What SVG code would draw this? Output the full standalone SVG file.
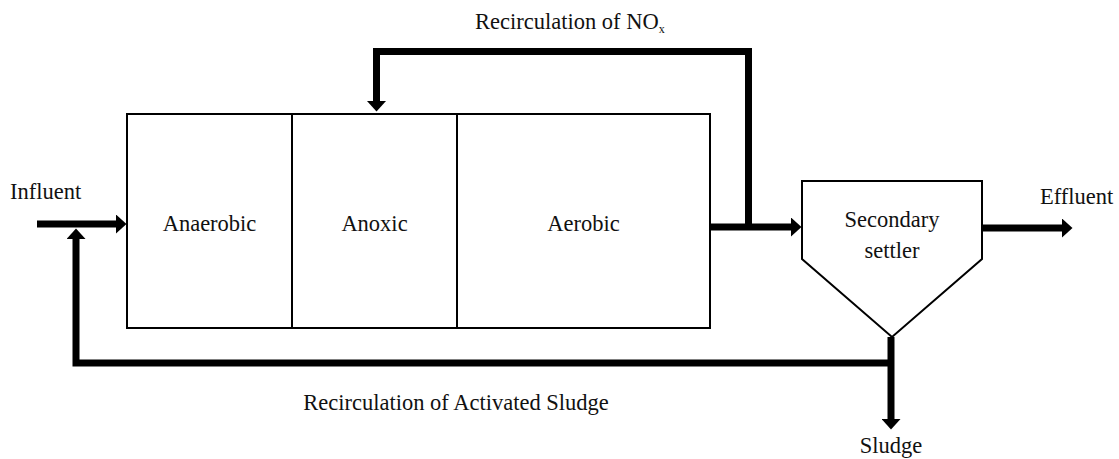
<svg xmlns="http://www.w3.org/2000/svg" width="1119" height="459" viewBox="0 0 1119 459">
  <defs>
    <marker id="head" markerUnits="userSpaceOnUse" markerWidth="11" markerHeight="19" refX="0" refY="9.5" orient="auto">
      <path d="M0,0 L10.5,9.5 L0,19 Z" fill="#000"/>
    </marker>
    <style>
      .box { fill: #fff; stroke: #000; stroke-width: 2; }
      .flow { fill: none; stroke: #000; stroke-width: 7; stroke-linejoin: miter; marker-end: url(#head); }
      text { font-size: 22.5px; fill: #111; }
      .mid { text-anchor: middle; }
    </style>
  </defs>

  <rect width="1119" height="459" fill="#fff"/>

  <!-- Flow lines -->
  <g id="connectors">
    <path class="flow" d="M37,224 H116"/>
    <path class="flow" d="M891,363 H76 V239"/>
    <path class="flow" d="M891,337 V419"/>
    <path class="flow" d="M711,227 H791"/>
    <path class="flow" d="M748.5,227 V51.5 H376.5 V101"/>
    <path class="flow" d="M983,228 H1062"/>
  </g>

  <g font-family="'Liberation Serif', 'Times New Roman', Times, serif">
    <!-- Bioreactor zones -->
    <g id="anaerobic">
      <rect class="box" x="127" y="114" width="165" height="214"/>
      <text class="mid" x="209.5" y="231">Anaerobic</text>
    </g>
    <g id="anoxic">
      <rect class="box" x="292" y="114" width="165" height="214"/>
      <text class="mid" x="374.5" y="231">Anoxic</text>
    </g>
    <g id="aerobic">
      <rect class="box" x="457" y="114" width="253" height="214"/>
      <text class="mid" x="583.5" y="231">Aerobic</text>
    </g>

    <!-- Clarifier -->
    <g id="settler">
      <path class="box" d="M802,181 H982 V259 L892,337 L802,259 Z"/>
      <text class="mid" x="892" y="227">Secondary</text>
      <text class="mid" x="892" y="258">settler</text>
    </g>

    <!-- Stream labels -->
    <g id="labels">
      <text x="10" y="199">Influent</text>
      <text x="1040" y="204">Effluent</text>
      <text class="mid" x="891" y="453">Sludge</text>
      <text class="mid" x="456" y="410">Recirculation of Activated Sludge</text>
      <text x="475" y="29">Recirculation of NO<tspan font-size="12" dy="4">x</tspan></text>
    </g>
  </g>
</svg>
